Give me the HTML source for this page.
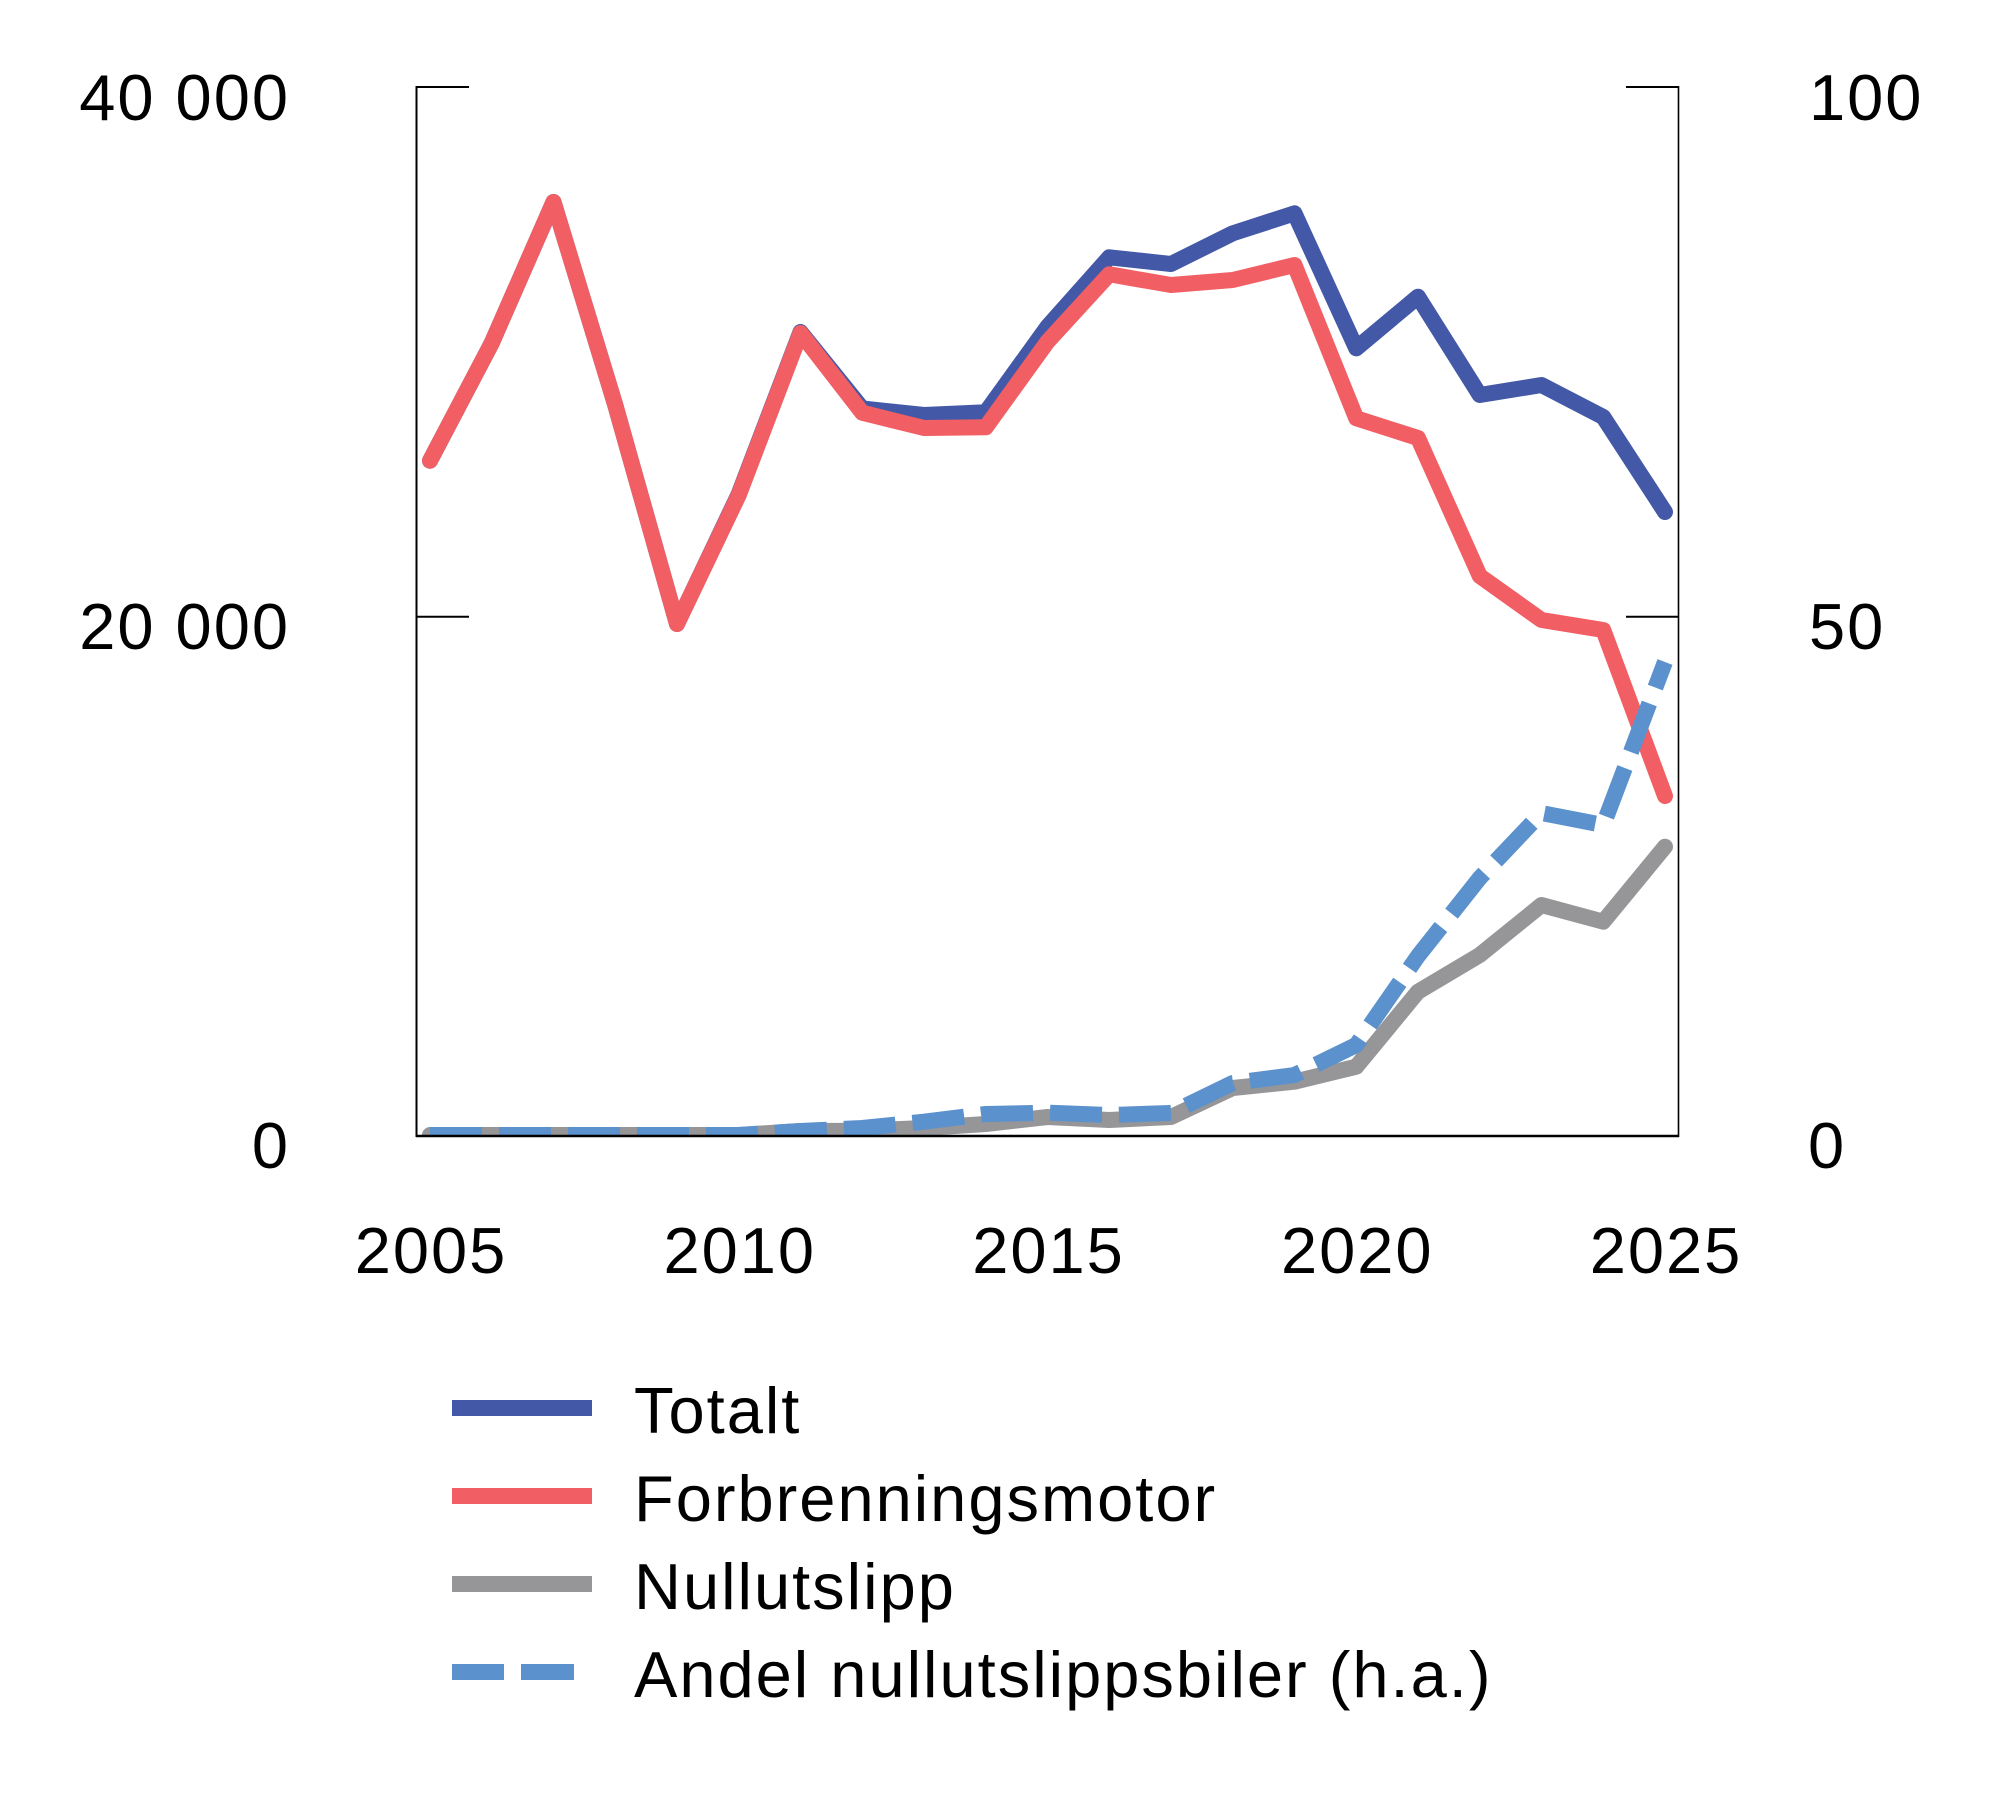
<!DOCTYPE html>
<html>
<head>
<meta charset="utf-8">
<style>
  html, body { margin: 0; padding: 0; background: #ffffff; }
  svg { display: block; }
  text { font-family: "Liberation Sans", Arial, sans-serif; font-size: 65px; fill: #000; letter-spacing: 2px; }
</style>
</head>
<body>
<svg width="2000" height="1816" viewBox="0 0 2000 1816" xmlns="http://www.w3.org/2000/svg">
  <defs>
    <clipPath id="plot">
      <rect x="417" y="0" width="1262" height="1136"/>
    </clipPath>
  </defs>
  <rect x="0" y="0" width="2000" height="1816" fill="#ffffff"/>

  <!-- series -->
  <g clip-path="url(#plot)" fill="none" stroke-linejoin="round">
    <path stroke="#4358A6" stroke-width="16" stroke-linecap="round"
      d="M430,460.7 L491.75,343 L553.5,202 L615.25,405 L677,624 L738.75,494 L800.5,332 L862.25,408.5 L924,415 L985.75,412.3 L1047.5,326.7 L1109.25,257.3 L1171,264 L1232.75,233.3 L1294.5,213.3 L1356.25,348.3 L1418,296.7 L1479.75,395 L1541.5,385 L1603.25,417 L1665,512"/>
    <path stroke="#F15F64" stroke-width="16" stroke-linecap="round"
      d="M430,460.7 L491.75,343 L553.5,202 L615.25,405 L677,624 L738.75,495 L800.5,333 L862.25,412.7 L924,428 L985.75,427.3 L1047.5,341.7 L1109.25,274.3 L1171,285 L1232.75,280 L1294.5,265 L1356.25,418.3 L1418,438 L1479.75,576 L1541.5,620 L1603.25,630 L1665,796"/>
    <path stroke="#969597" stroke-width="16" stroke-linecap="round"
      d="M430,1135 L491.75,1135 L553.5,1135 L615.25,1135 L677,1135 L738.75,1135 L800.5,1131 L862.25,1130.7 L924,1128 L985.75,1124 L1047.5,1117 L1109.25,1120 L1171,1117 L1232.75,1088 L1294.5,1081.7 L1356.25,1066.7 L1418,991.7 L1479.75,955 L1541.5,905 L1603.25,921.7 L1665,846.7"/>
    <path stroke="#5B91CC" stroke-width="16" stroke-linecap="butt" stroke-dasharray="52 17"
      d="M430,1135 L491.75,1135 L553.5,1135 L615.25,1135 L677,1135 L738.75,1135 L800.5,1131 L862.25,1128 L924,1121.7 L985.75,1114 L1047.5,1112.7 L1109.25,1115 L1171,1113 L1232.75,1083 L1294.5,1075 L1356.25,1045 L1418,956 L1479.75,878 L1541.5,813 L1603.25,825 L1665,662"/>
  </g>

  <!-- axes -->
  <g stroke="#000" fill="none">
    <line x1="416.5" y1="86" x2="416.5" y2="1137" stroke-width="2"/>
    <line x1="1678.5" y1="86" x2="1678.5" y2="1137" stroke-width="1.6"/>
    <line x1="416" y1="1136" x2="1679" y2="1136" stroke-width="2.5"/>
    <line x1="416" y1="87" x2="469" y2="87" stroke-width="2"/>
    <line x1="416" y1="616.7" x2="469" y2="616.7" stroke-width="2"/>
    <line x1="1626" y1="87" x2="1679" y2="87" stroke-width="2"/>
    <line x1="1626" y1="616.7" x2="1679" y2="616.7" stroke-width="2"/>
  </g>

  <!-- left axis labels -->
  <text x="290" y="120" text-anchor="end">40 000</text>
  <text x="290" y="649" text-anchor="end">20 000</text>
  <text x="290" y="1168" text-anchor="end">0</text>

  <!-- right axis labels -->
  <text x="1809" y="120">100</text>
  <text x="1809" y="649">50</text>
  <text x="1808" y="1168">0</text>

  <!-- x axis labels -->
  <text x="431" y="1273" text-anchor="middle">2005</text>
  <text x="739.75" y="1273" text-anchor="middle">2010</text>
  <text x="1048.5" y="1273" text-anchor="middle">2015</text>
  <text x="1357.25" y="1273" text-anchor="middle">2020</text>
  <text x="1666" y="1273" text-anchor="middle">2025</text>

  <!-- legend -->
  <rect x="452" y="1400" width="140" height="16" fill="#4358A6"/>
  <rect x="452" y="1488" width="140" height="16" fill="#F15F64"/>
  <rect x="452" y="1576" width="140" height="16" fill="#969597"/>
  <rect x="452" y="1664" width="52" height="16" fill="#5B91CC"/>
  <rect x="521" y="1664" width="53" height="16" fill="#5B91CC"/>

  <text x="634" y="1433">Totalt</text>
  <text x="634" y="1521">Forbrenningsmotor</text>
  <text x="634" y="1609">Nullutslipp</text>
  <text x="634" y="1697">Andel nullutslippsbiler (h.a.)</text>
</svg>
</body>
</html>
